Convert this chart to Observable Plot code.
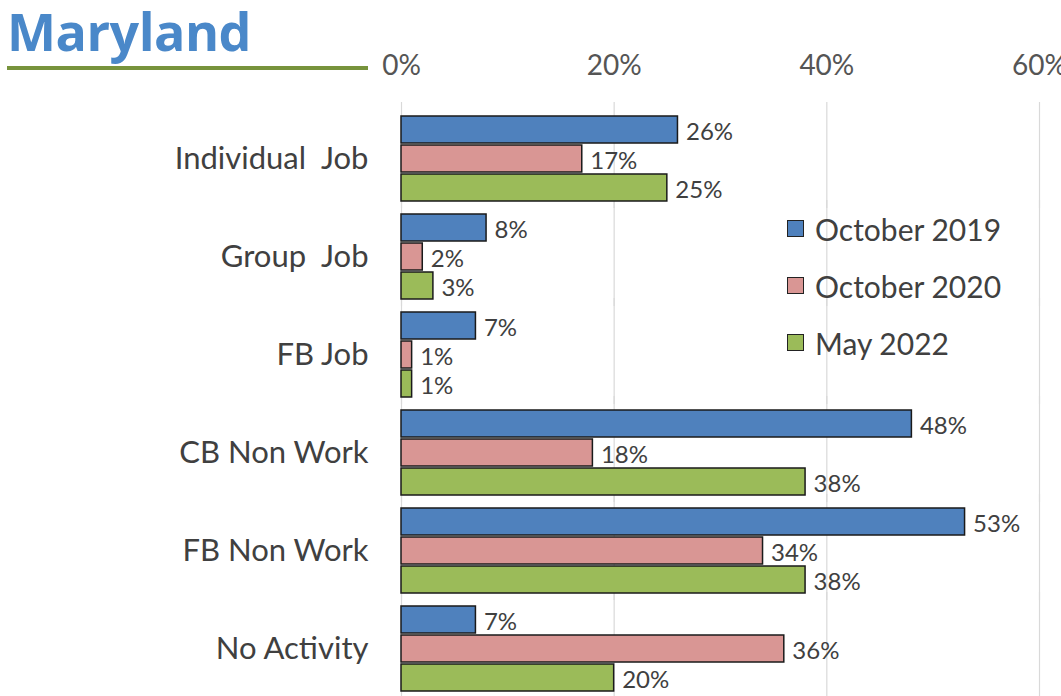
<!DOCTYPE html>
<html>
<head>
<meta charset="utf-8">
<script src="https://cdn.jsdelivr.net/npm/d3@7"></script>
<script src="https://cdn.jsdelivr.net/npm/@observablehq/plot@0.6"></script>
<style>
  html, body { margin: 0; padding: 0; background: #fff; }
  #wrap { position: relative; width: 1061px; height: 696px; overflow: hidden; font-family: Lato, "Open Sans", sans-serif; }
  #title { position: absolute; left: 7px; top: 5px; line-height: 52px; font-family: "Open Sans", Lato, sans-serif; font-weight: 700; font-size: 52px; color: #4a88c9; letter-spacing: -0.5px; }
  #rule { position: absolute; left: 7px; top: 66px; width: 361px; height: 4px; background: #77933C; }
  #chart { position: absolute; left: 0; top: 0; }
  #chart svg { white-space: pre; }
  #legend { position: absolute; left: 787px; top: 200px; }
  .li { display: flex; align-items: center; height: 57px; font-size: 30px; color: #404040; }
  .sw { width: 15px; height: 15px; border: 1.5px solid #222; margin-right: 11px; }
</style>
</head>
<body>
<div id="wrap">
  <div id="chart"></div>
  <div id="title">Maryland</div>
  <div id="rule"></div>
  <div id="legend"></div>
</div>
<script>
const categories = ["Individual  Job", "Group  Job", "FB Job", "CB Non Work", "FB Non Work", "No Activity"];
const series = ["October 2019", "October 2020", "May 2022"];
const oct2019 = [26, 8, 7, 48, 53, 7];
const oct2020 = [17, 2, 1, 18, 34, 36];
const may2022 = [25, 3, 1, 38, 38, 20];
const xTicks = [0, 20, 40, 60];
const colors = ["#4F81BD", "#D99694", "#9BBB59"];

const valuesBySeries = [oct2019, oct2020, may2022];
const data = [];
categories.forEach((c, i) => {
  series.forEach((s, j) => data.push({cat: c, series: s, value: valuesBySeries[j][i]}));
});

const chart = Plot.plot({
  width: 1061,
  height: 696,
  marginLeft: 401,
  marginRight: 22,
  marginTop: 114,
  marginBottom: 3,
  style: {fontFamily: "Lato, 'Open Sans', sans-serif", fontSize: "28px", color: "#404040", background: "transparent", overflow: "visible"},
  x: {domain: [0, 60], label: null},
  fy: {domain: categories, paddingInner: 0.13, paddingOuter: 0, label: null},
  y: {domain: series, paddingInner: 0.07, paddingOuter: 0, axis: null},
  color: {domain: series, range: colors},
  marks: [
    Plot.ruleX(xTicks, {stroke: "#d9d9d9", strokeWidth: 1.2, insetTop: -14, insetBottom: -7}),
    Plot.axisX({anchor: "top", ticks: xTicks, tickFormat: d => d + "%", tickSize: 0, tickPadding: 42, fontSize: 28, fill: "#555", label: null}),
    Plot.axisFy({anchor: "left", tickSize: 0, tickPadding: 33, fontSize: 31, fill: "#404040", label: null}),
    Plot.barX(data, {fy: "cat", y: "series", x: "value", fill: "series", stroke: "#1a1a1a", strokeWidth: 1.5}),
    Plot.text(data, {fy: "cat", y: "series", x: "value", text: d => d.value + "%", dx: 8, dy: 2, textAnchor: "start", fontSize: 24, fill: "#404040"})
  ]
});
document.getElementById("chart").appendChild(chart);

const legend = document.getElementById("legend");
series.forEach((s, j) => {
  const row = document.createElement("div");
  row.className = "li";
  const sw = document.createElement("div");
  sw.className = "sw";
  sw.style.background = colors[j];
  const t = document.createElement("span");
  t.textContent = s;
  row.appendChild(sw);
  row.appendChild(t);
  legend.appendChild(row);
});
</script>
</body>
</html>
